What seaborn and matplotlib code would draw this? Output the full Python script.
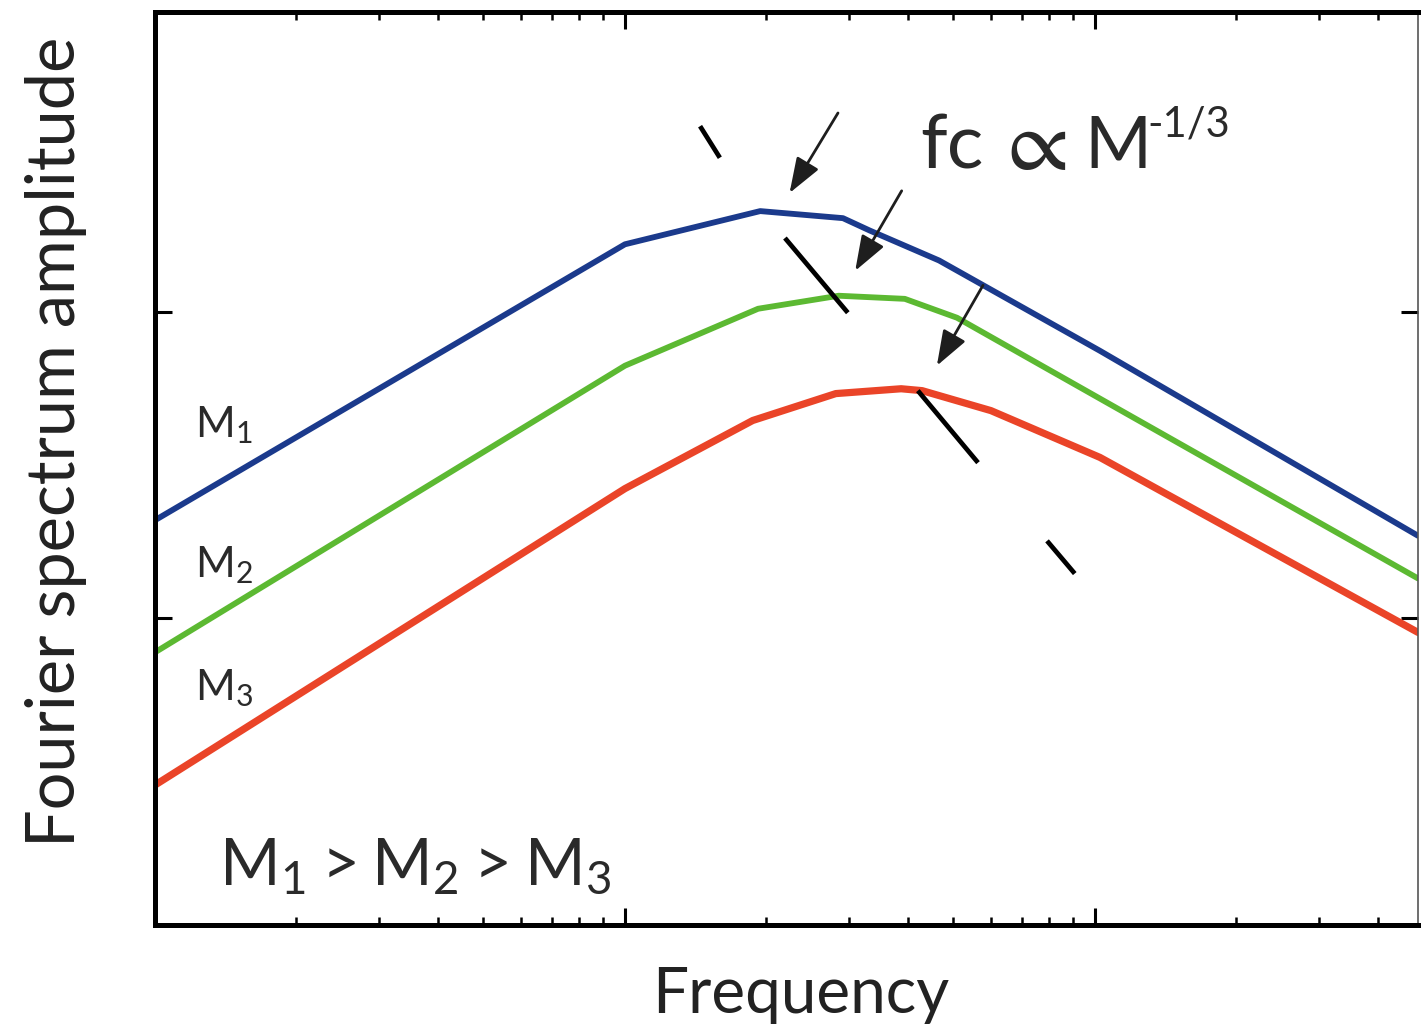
import numpy as np
import pandas as pd
import seaborn as sns
import matplotlib.pyplot as plt
from matplotlib.ticker import LogLocator, NullLocator, NullFormatter

# spectra (log-log, arbitrary units)
freq_m1 = [1.0, 10.0, 19.4, 29.1, 33.2, 46.6, 102.5, 487.0]
amp_m1 = [20.9, 166.0, 213.0, 202.0, 184.0, 147.0, 74.6, 18.6]
freq_m2 = [1.0, 10.0, 19.2, 28.5, 39.4, 50.9, 102.5, 487.0]
amp_m2 = [7.75, 66.7, 102.3, 112.8, 110.2, 95.6, 52.1, 13.5]
freq_m3 = [1.0, 10.0, 18.7, 28.1, 38.7, 42.9, 60.1, 102.5, 487.0]
amp_m3 = [2.86, 26.5, 44.2, 54.1, 56.1, 55.3, 47.6, 33.5, 9.0]
series = ['M1', 'M2', 'M3']
colors = ['#1b3a8c', '#5cb932', '#ea4428']
widths = [4.2, 4.2, 5.2]

# corner-frequency trend (dashed black line segments)
fc_seg_x = [(14.45, 15.92), (21.9, 29.8), (42.0, 56.4), (79.1, 90.6)]
fc_seg_y = [(403, 318), (174, 99.3), (55.3, 32.2), (17.9, 14.0)]

# arrows pointing at each corner: (tail, head)
arrow_tail = [(28.4, 445), (38.8, 248), (57.8, 122)]
arrow_head = [(22.4, 244), (30.9, 136), (46.1, 66.7)]

df = pd.concat([
    pd.DataFrame({'freq': freq_m1, 'amp': amp_m1, 'mag': 'M1'}),
    pd.DataFrame({'freq': freq_m2, 'amp': amp_m2, 'mag': 'M2'}),
    pd.DataFrame({'freq': freq_m3, 'amp': amp_m3, 'mag': 'M3'}),
])

sns.set_theme(style='ticks')
plt.rcParams['font.family'] = ['Lato', 'DejaVu Sans']
plt.rcParams['mathtext.fontset'] = 'custom'
plt.rcParams['mathtext.rm'] = 'Lato'

fig = plt.figure(figsize=(14.21, 10.25), dpi=100)
ax = fig.add_axes([155 / 1421, 1 - 925 / 1025, 1263 / 1421, 913 / 1025])
ax.set_xscale('log')
ax.set_yscale('log')

for name, col, lw in zip(series, colors, widths):
    sns.lineplot(data=df[df['mag'] == name], x='freq', y='amp', color=col,
                 linewidth=lw, ax=ax, sort=False, solid_joinstyle='round')

for sx, sy in zip(fc_seg_x, fc_seg_y):
    ax.plot(sx, sy, color='black', linewidth=3.4, solid_capstyle='butt')

for t, h in zip(arrow_tail, arrow_head):
    ax.annotate('', xy=h, xytext=t,
                arrowprops=dict(arrowstyle='-|>,head_length=1.8,head_width=0.65',
                                color='#1e1e1e', lw=2.0, shrinkA=0, shrinkB=0))

ax.set_xlim(1, 487)
ax.set_ylim(1, 950)

ax.xaxis.set_major_locator(LogLocator(base=10))
ax.xaxis.set_minor_locator(LogLocator(base=10, subs=np.arange(2, 10)))
ax.yaxis.set_major_locator(LogLocator(base=10))
ax.yaxis.set_minor_locator(NullLocator())
for a in (ax.xaxis, ax.yaxis):
    a.set_major_formatter(NullFormatter())
    a.set_minor_formatter(NullFormatter())
ax.tick_params(which='both', direction='in', top=True, right=True, color='black')
ax.tick_params(which='major', length=12, width=2.2)
ax.tick_params(which='minor', length=6, width=1.8)

for side in ['left', 'bottom', 'top']:
    ax.spines[side].set_linewidth(3.6)
    ax.spines[side].set_color('black')
ax.spines['right'].set_linewidth(1.2)
ax.spines['right'].set_color('#555555')

ax.set_xlabel('Frequency', fontsize=46, color='#222222')
ax.xaxis.set_label_coords(0.511, -0.045, transform=ax.transAxes)
ax.xaxis.label.set_va('top')
ax.set_ylabel('Fourier spectrum amplitude', fontsize=48, color='#222222')
ax.yaxis.set_label_coords(-0.078, 0.529, transform=ax.transAxes)
ax.yaxis.label.set_va('center')

# fc ∝ M^-1/3 built from pieces so the wide proportional sign matches
txt_kw = dict(transform=ax.transAxes, color='#2a2a2a')
ax.text(0.606, 0.829, 'fc', fontsize=55, **txt_kw)
ax.text(0.665, 0.854, r'$\propto$', fontsize=64, math_fontfamily='stix', va='center', **txt_kw)
ax.text(0.736, 0.829, 'M', fontsize=52, **txt_kw)
ax.text(0.786, 0.864, '-1/3', fontsize=30, **txt_kw)

ax.text(0.032, 0.534, r'$\mathregular{M_1}$', fontsize=31, **txt_kw)
ax.text(0.032, 0.381, r'$\mathregular{M_2}$', fontsize=31, **txt_kw)
ax.text(0.032, 0.246, r'$\mathregular{M_3}$', fontsize=31, **txt_kw)
ax.text(0.051, 0.044, r'$\mathregular{M_1 > M_2 > M_3}$', fontsize=47, **txt_kw)

plt.savefig('out.png', dpi=100)
